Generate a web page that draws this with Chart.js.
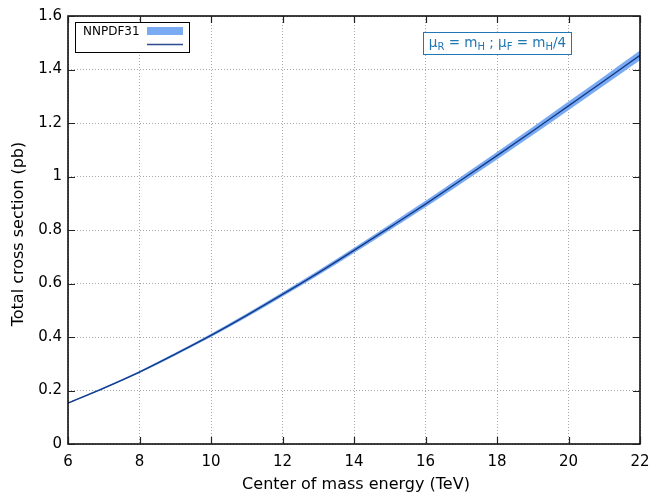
<!DOCTYPE html>
<html>
<head>
<meta charset="utf-8">
<script src="https://cdn.jsdelivr.net/npm/chart.js@4"></script>
<style>
  html, body { margin: 0; padding: 0; background: #fff; }
  #wrap { width: 653px; height: 492px; }
</style>
</head>
<body>
<div id="wrap"><canvas id="xsecChart" width="653" height="492"></canvas></div>
<script>
// centre of mass energy (TeV)
var energies = [6, 7, 8, 9, 10, 11, 12, 13, 14, 15, 16, 17, 18, 19, 20, 21, 22]
// total cross section (pb), central and PDF band edges
var xsecCentral = [0.153, 0.209, 0.269, 0.336, 0.406, 0.481, 0.559, 0.640, 0.724, 0.810, 0.897, 0.987, 1.078, 1.170, 1.264, 1.358, 1.453]
var xsecUpper   = [0.155, 0.212, 0.273, 0.341, 0.412, 0.488, 0.567, 0.649, 0.734, 0.821, 0.909, 1.000, 1.092, 1.185, 1.280, 1.375, 1.471]
var xsecLower   = [0.151, 0.206, 0.265, 0.331, 0.400, 0.474, 0.551, 0.631, 0.714, 0.799, 0.885, 0.974, 1.064, 1.155, 1.248, 1.341, 1.435]
var xTicks = [6, 8, 10, 12, 14, 16, 18, 20, 22]
var yTicks = [0, 0.2, 0.4, 0.6, 0.8, 1, 1.2, 1.4, 1.6]

var font = 'DejaVu Sans'
var bandColor = '#7aabf2'
var lineColor = '#12398a'

function pts(ys) {
  return energies.map(function (x, i) { return { x: x, y: ys[i] } })
}

// frame, inward ticks, axis titles, legend box and scale note
var decorations = {
  id: 'decorations',
  afterDraw: function (chart) {
    var ctx = chart.ctx
    var a = chart.chartArea
    var xs = chart.scales.x, ys = chart.scales.y
    ctx.save()
    ctx.strokeStyle = '#000'
    ctx.lineWidth = 1.5
    ctx.strokeRect(a.left, a.top, a.right - a.left, a.bottom - a.top)

    ctx.lineWidth = 1.2
    ctx.strokeStyle = '#222'
    xTicks.forEach(function (t) {
      var px = Math.round(xs.getPixelForValue(t)) + 0.5
      ctx.beginPath()
      ctx.moveTo(px, a.bottom); ctx.lineTo(px, a.bottom - 7)
      ctx.moveTo(px, a.top); ctx.lineTo(px, a.top + 7)
      ctx.stroke()
    })
    yTicks.forEach(function (t) {
      var py = Math.round(ys.getPixelForValue(t)) + 0.5
      ctx.beginPath()
      ctx.moveTo(a.left, py); ctx.lineTo(a.left + 7, py)
      ctx.moveTo(a.right, py); ctx.lineTo(a.right - 7, py)
      ctx.stroke()
    })

    // axis titles
    ctx.fillStyle = '#000'
    ctx.font = '16px "' + font + '"'
    ctx.textAlign = 'center'
    ctx.textBaseline = 'alphabetic'
    ctx.fillText('Center of mass energy (TeV)', 356, 489)
    ctx.translate(23, 234)
    ctx.rotate(-Math.PI / 2)
    ctx.fillText('Total cross section (pb)', 0, 0)
    ctx.setTransform(1, 0, 0, 1, 0, 0)

    // legend
    ctx.fillStyle = '#fff'
    ctx.fillRect(75.5, 22.5, 114, 30)
    ctx.strokeStyle = '#000'
    ctx.lineWidth = 1
    ctx.strokeRect(75.5, 22.5, 114, 30)
    ctx.fillStyle = '#000'
    ctx.font = '12px "' + font + '"'
    ctx.textAlign = 'left'
    ctx.fillText('NNPDF31', 83, 35)
    ctx.fillStyle = bandColor
    ctx.fillRect(147, 27, 36, 8)
    ctx.strokeStyle = '#2b4d8f'
    ctx.lineWidth = 1.5
    ctx.beginPath(); ctx.moveTo(147, 44.5); ctx.lineTo(183, 44.5); ctx.stroke()

    // scale choice note
    var blue = '#1f77b4'
    ctx.fillStyle = '#fff'
    ctx.fillRect(423.5, 32.5, 148, 22)
    ctx.strokeStyle = blue
    ctx.lineWidth = 1
    ctx.strokeRect(423.5, 32.5, 148, 22)
    var parts = [['\u03bc', 0], ['R', 1], [' = m', 0], ['H', 1], [' ; \u03bc', 0], ['F', 1], [' = m', 0], ['H', 1], ['/4', 0]]
    var mainF = '13.5px "' + font + '"', subF = '10px "' + font + '"'
    var total = 0
    parts.forEach(function (p) { ctx.font = p[1] ? subF : mainF; total += ctx.measureText(p[0]).width })
    var x = 423.5 + (148 - total) / 2
    ctx.fillStyle = blue
    parts.forEach(function (p) {
      ctx.font = p[1] ? subF : mainF
      ctx.fillText(p[0], x, p[1] ? 50 : 47)
      x += ctx.measureText(p[0]).width
    })
    ctx.restore()
  }
}

var xsecCanvas = document.getElementById('xsecChart').getContext('2d')
new Chart(xsecCanvas, {
  type: 'line',
  data: {
    datasets: [
      { data: pts(xsecUpper), order: 2, borderWidth: 0, borderColor: 'rgba(0,0,0,0)', backgroundColor: bandColor, fill: '+1', pointRadius: 0, cubicInterpolationMode: 'monotone' },
      { data: pts(xsecLower), order: 2, borderWidth: 0, borderColor: 'rgba(0,0,0,0)', fill: false, pointRadius: 0, cubicInterpolationMode: 'monotone' },
      { data: pts(xsecCentral), order: 0, borderWidth: 1.4, borderColor: lineColor, fill: false, pointRadius: 0, cubicInterpolationMode: 'monotone' }
    ]
  },
  options: {
    responsive: false,
    animation: false,
    events: [],
    layout: { padding: { top: 16, right: 13, left: 0, bottom: 0 } },
    plugins: { legend: { display: false }, tooltip: { enabled: false } },
    scales: {
      x: {
        type: 'linear', min: 6, max: 22,
        afterBuildTicks: function (s) { s.ticks = xTicks.map(function (v) { return { value: v } }) },
        afterFit: function (s) { s.height = 48; s.paddingLeft = 0; s.paddingRight = 0 },
        grid: { color: '#a8a8a8', lineWidth: 1, drawTicks: false },
        border: { display: false, dash: [1, 2] },
        ticks: { color: '#000', font: { family: font, size: 15 }, padding: 9, callback: function (v) { return String(v) } }
      },
      y: {
        min: 0, max: 1.6,
        afterBuildTicks: function (s) { s.ticks = yTicks.map(function (v) { return { value: v } }) },
        afterFit: function (s) { s.width = 68; s.paddingTop = 0; s.paddingBottom = 0 },
        grid: { color: '#a8a8a8', lineWidth: 1, drawTicks: false },
        border: { display: false, dash: [1, 2] },
        ticks: { color: '#000', font: { family: font, size: 15 }, padding: 6, callback: function (v) { return String(Math.round(v * 10) / 10) } }
      }
    }
  },
  plugins: [decorations]
})
</script>
</body>
</html>
